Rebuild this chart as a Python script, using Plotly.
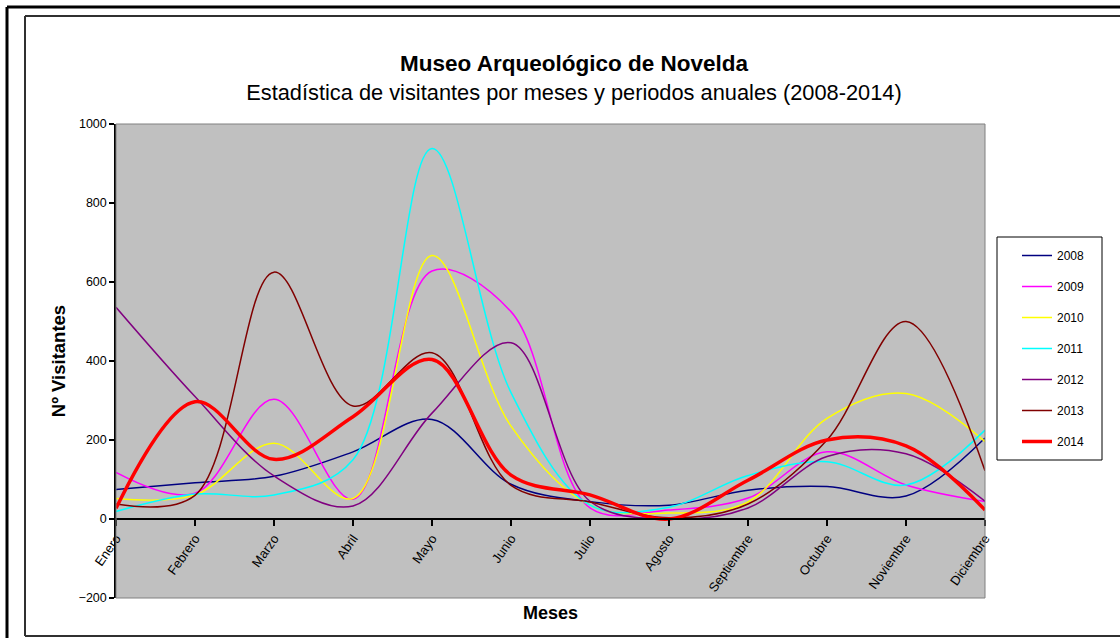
import plotly.graph_objects as go

months = ["Enero", "Febrero", "Marzo", "Abril", "Mayo", "Junio", "Julio",
          "Agosto", "Septiembre", "Octubre", "Noviembre", "Diciembre"]

v2008 = [75, 92, 108, 170, 252, 88, 44, 35, 73, 82, 58, 205]
v2009 = [118, 65, 303, 50, 628, 525, 28, 23, 53, 170, 86, 44]
v2010 = [52, 61, 192, 52, 667, 235, 35, 15, 43, 255, 318, 196]
v2011 = [19, 63, 61, 150, 938, 320, 35, 30, 110, 145, 86, 225]
v2012 = [536, 310, 109, 33, 268, 446, 45, 0, 28, 158, 165, 45]
v2013 = [38, 60, 625, 286, 421, 85, 43, 3, 38, 200, 500, 122]
v2014 = [27, 297, 151, 259, 404, 111, 61, 0, 98, 200, 185, 23]

series = [
    ("2008", v2008, "#000080", 1.5),
    ("2009", v2009, "#FF00FF", 1.5),
    ("2010", v2010, "#FFFF00", 1.5),
    ("2011", v2011, "#00FFFF", 1.5),
    ("2012", v2012, "#800080", 1.5),
    ("2013", v2013, "#800000", 1.5),
    ("2014", v2014, "#FF0000", 3.5),
]

W, H = 1120, 638
L, R, T, B = 116, 135, 124, 40
PW, PH = W - L - R, H - T - B


def px_x(p):
    return (p - L) / PW


def px_y(p):
    return (H - B - p) / PH


fig = go.Figure()
for name, vals, color, width in series:
    fig.add_trace(go.Scatter(
        x=months, y=vals, name=name, mode="lines", legendgroup=name,
        line=dict(color=color, width=width, shape="spline", smoothing=1.0),
    ))

font_family = "Liberation Sans, Arial, sans-serif"

shapes = [
    # plot area border
    dict(type="rect", xref="x domain", yref="y domain", x0=0, x1=1, y0=0, y1=1,
         line=dict(color="#808080", width=1), layer="above"),
    # outer frame (black)
    dict(type="line", xref="paper", yref="paper", x0=px_x(7), x1=px_x(1125),
         y0=px_y(7), y1=px_y(7), line=dict(color="black", width=3)),
    dict(type="line", xref="paper", yref="paper", x0=px_x(7), x1=px_x(7),
         y0=px_y(7), y1=px_y(645), line=dict(color="black", width=3)),
    # inner frame
    dict(type="line", xref="paper", yref="paper", x0=px_x(25), x1=px_x(1125),
         y0=px_y(16), y1=px_y(16), line=dict(color="#303030", width=2)),
    dict(type="line", xref="paper", yref="paper", x0=px_x(25), x1=px_x(25),
         y0=px_y(16), y1=px_y(636), line=dict(color="#303030", width=2)),
    dict(type="line", xref="paper", yref="paper", x0=px_x(25), x1=px_x(1125),
         y0=px_y(636), y1=px_y(636), line=dict(color="#303030", width=2)),
    # legend box
    dict(type="rect", xref="paper", yref="paper", x0=px_x(997), x1=px_x(1102),
         y0=px_y(237), y1=px_y(460), line=dict(color="black", width=1),
         fillcolor="rgba(0,0,0,0)"),
]

title_text = ("<b>Museo Arqueológico de Novelda</b><br>"
              "<span style='font-size:21.8px'>Estadística de visitantes por meses "
              "y periodos anuales (2008-2014)</span>")

fig.update_layout(
    width=W, height=H,
    margin=dict(l=L, r=R, t=T, b=B, autoexpand=False),
    paper_bgcolor="white",
    plot_bgcolor="#C0C0C0",
    font=dict(family=font_family, color="black", size=12),
    title=dict(
        text=title_text,
        font=dict(size=22.5, family=font_family, color="black"),
        x=574 / W, xanchor="center",
        y=1 - 71 / H, yanchor="middle", xref="container", yref="container",
    ),
    showlegend=True,
    legend=dict(
        x=px_x(1017), y=px_y(241), xanchor="left", yanchor="top",
        bgcolor="rgba(0,0,0,0)", borderwidth=0,
        font=dict(size=12, family=font_family, color="black"),
        traceorder="grouped", tracegroupgap=12, itemwidth=30,
    ),
    shapes=shapes,
)

fig.update_xaxes(
    type="category", range=[0, 11], categoryorder="array", categoryarray=months,
    anchor="free", position=px_y(519),
    showline=True, linecolor="black", linewidth=1.5,
    ticks="outside", ticklen=6, tickcolor="black", tickwidth=1.5,
    tickangle=-55, tickfont=dict(size=13, family=font_family, color="black"),
    showgrid=False, zeroline=False,
    title=dict(text="<b>Meses</b>", font=dict(size=18, family=font_family, color="black"),
               standoff=12),
)
fig.update_yaxes(
    range=[-200, 1000], dtick=200, tick0=0,
    showline=True, linecolor="black", linewidth=1.5,
    ticks="outside", ticklen=5, tickcolor="black", tickwidth=1.5,
    tickfont=dict(size=12.5, family=font_family, color="black"),
    showgrid=False, zeroline=False,
    title=dict(text="<b>Nº Visitantes</b>", font=dict(size=18.5, family=font_family, color="black"),
               standoff=8),
)

fig.write_html("out.html", config={"displayModeBar": False},
               post_script="document.body.style.margin='0';")
